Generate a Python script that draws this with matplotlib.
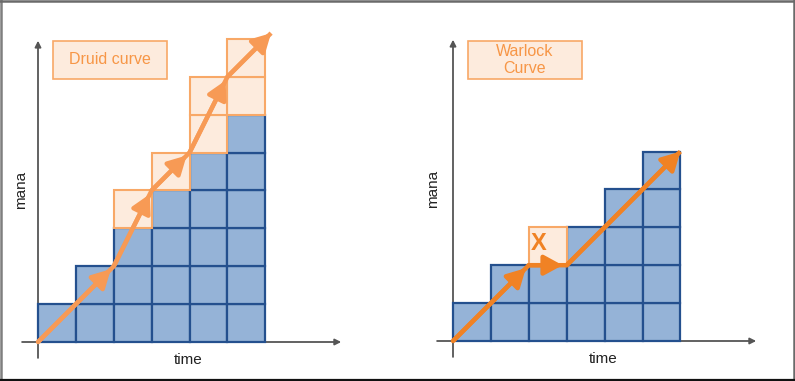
import matplotlib
matplotlib.use("Agg")
import matplotlib.pyplot as plt
from matplotlib.patches import Rectangle
from matplotlib.lines import Line2D

plt.rcParams['font.family'] = ['Liberation Sans', 'DejaVu Sans']

# blue mana cells per turn (column heights)
druid_blue = [1, 2, 3, 4, 5, 6]
# extra (orange) cells stacked above the blue ones
druid_extra = [0, 0, 1, 1, 2, 2]
druid_path_x = [0, 2, 3, 4, 5, 6.15]
druid_path_y = [0, 2, 4, 5, 7, 8.15]

warlock_blue = [1, 2, 2, 3, 4, 5]
warlock_extra = [0, 0, 1, 0, 0, 0]
warlock_path_x = [0, 2, 3, 6]
warlock_path_y = [0, 2, 2, 5]

BLUE = '#95B3D7'
BLUE_EDGE = '#24508E'
PALE = '#FDEBDD'
PALE_EDGE = '#F8A867'
TXT_ORANGE = '#F79646'

W, H = 795, 381
CELL = 37.9

fig = plt.figure(figsize=(W / 100, H / 100), dpi=100)


def make_axes(px_left, px_right, ox, oy):
    # ox, oy: pixel position of the origin (from the top-left corner)
    ax = fig.add_axes([px_left / W, 0, (px_right - px_left) / W, 1])
    ax.set_xlim((px_left - ox) / CELL, (px_right - ox) / CELL)
    ax.set_ylim(-(H - oy) / CELL, oy / CELL)
    ax.axis('off')
    return ax


def draw_cells(ax, blue, extra):
    cols = list(range(len(blue)))
    for lvl in range(max(blue)):
        xs = [c for c in cols if blue[c] > lvl]
        ax.bar(xs, [1] * len(xs), width=1, bottom=lvl, align='edge',
               color=BLUE, edgecolor=BLUE_EDGE, linewidth=1.6, zorder=2)
    for lvl in range(max(extra)):
        xs = [c for c in cols if extra[c] > lvl]
        bots = [blue[c] + lvl for c in xs]
        ax.bar(xs, [1] * len(xs), width=1, bottom=bots, align='edge',
               color=PALE, edgecolor=PALE_EDGE, linewidth=1.5, zorder=2)


def draw_axes_arrows(ax):
    kw = dict(arrowstyle='-|>', color='#555555', lw=1.3, mutation_scale=9,
              shrinkA=0, shrinkB=0)
    ax.annotate('', xy=(0, 7.95), xytext=(0, -0.42), arrowprops=kw, zorder=1)
    ax.annotate('', xy=(8.0, 0), xytext=(-0.42, 0), arrowprops=kw, zorder=1)


def draw_path(ax, px, py, color, last_shrink):
    ax.plot(px, py, color=color, lw=3.2, solid_capstyle='butt', zorder=4)
    n = len(px) - 1
    for i in range(n):
        shrink = last_shrink if i == n - 1 else 3
        ax.annotate('', xy=(px[i + 1], py[i + 1]), xytext=(px[i], py[i]),
                    arrowprops=dict(arrowstyle='-|>,head_length=0.55,head_width=0.3',
                                    color=color, lw=3.2, mutation_scale=20,
                                    shrinkA=0, shrinkB=shrink),
                    zorder=5)


def label_box(ax, x0, y0, w, h, text):
    ax.add_patch(Rectangle((x0, y0), w, h, facecolor=PALE, edgecolor=PALE_EDGE,
                           lw=1.2, zorder=3))
    ax.text(x0 + w / 2, y0 + h / 2, text, color=TXT_ORANGE, fontsize=11.5,
            ha='center', va='center', linespacing=1.2, zorder=4)


# left panel: druid
axl = make_axes(0, 397, 38, 342)
draw_axes_arrows(axl)
draw_cells(axl, druid_blue, druid_extra)
draw_path(axl, druid_path_x, druid_path_y, '#F79A55', 0)
label_box(axl, 0.4, 6.95, 3.0, 1.0, 'Druid curve')
axl.text(-0.45, 4.0, 'mana', rotation=90, fontsize=11, ha='center', va='center',
         color='#222222')
axl.text(3.97, -0.48, 'time', fontsize=11, ha='center', va='center',
         color='#222222')

# right panel: warlock
axr = make_axes(397, 795, 453, 341)
draw_axes_arrows(axr)
draw_cells(axr, warlock_blue, warlock_extra)
draw_path(axr, warlock_path_x, warlock_path_y, '#F08224', 0)
label_box(axr, 0.4, 6.92, 3.0, 1.0, 'Warlock\nCurve')
axr.text(2.27, 2.56, 'X', color='#F08224', fontsize=17, fontweight='bold',
         ha='center', va='center', zorder=5)
axr.text(-0.53, 4.0, 'mana', rotation=90, fontsize=11, ha='center', va='center',
         color='#222222')
axr.text(3.95, -0.47, 'time', fontsize=11, ha='center', va='center',
         color='#222222')

# frame around the picture
fig.add_artist(Line2D([1 / W, 1 / W], [0, 1], color='#7f7f7f', lw=1.8))
fig.add_artist(Line2D([0, 1], [1 - 1 / H, 1 - 1 / H], color='#6a6a6a', lw=1.8))
fig.add_artist(Line2D([793.5 / W, 793.5 / W], [0, 1], color='#6a6a6a', lw=1.8))
fig.add_artist(Line2D([0, 1], [1.5 / H, 1.5 / H], color='#111111', lw=1.6))

fig.savefig('out.png', dpi=100)
